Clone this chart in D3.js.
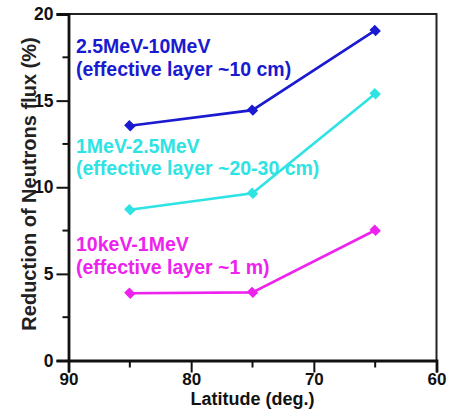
<!DOCTYPE html>
<html><head><meta charset="utf-8">
<script src="https://cdn.jsdelivr.net/npm/d3@7"></script>
<style>body{margin:0;background:#fff}svg{display:block}text{font-family:"Liberation Sans",Arial,sans-serif}</style>
</head><body>
<svg id="c" width="453" height="411"></svg>
<script>
const latitudes = [85, 75, 65];
const seriesNames = ["2.5MeV-10MeV", "1MeV-2.5MeV", "10keV-1MeV"];
const seriesNotes = ["(effective layer ~10 cm)", "(effective layer ~20-30 cm)", "(effective layer ~1 m)"];
const fastValues = [13.55, 14.45, 19.05];
const midValues = [8.7, 9.65, 15.4];
const lowValues = [3.88, 3.93, 7.52];
const seriesColors = ["#1a1ad0", "#2ee3e3", "#ee22ee"];
const xTicks = [90, 80, 70, 60];
const yTicks = [0, 5, 10, 15, 20];

const svg = d3.select("#c");
const L = 68.5, R = 436.5, T = 14, B = 360.5;
const x = d3.scaleLinear().domain([90, 60]).range([L, R]);
const y = d3.scaleLinear().domain([0, 20]).range([B, T]);

// frame top/right
svg.append("path").attr("d", `M${L},${T}H${R}V${B}`).attr("fill","none").attr("stroke","#222").attr("stroke-width",2);

// y axis
const yMinor = d3.range(2.5, 20, 5);
const gy = svg.append("g").attr("transform",`translate(${L},0)`);
gy.call(d3.axisLeft(y).tickValues(yTicks).tickSize(12).tickPadding(3));
yMinor.forEach(v=>gy.append("line").attr("x1",-6).attr("x2",0).attr("y1",y(v)).attr("y2",y(v)).attr("stroke","#111").attr("stroke-width",2));
gy.select(".domain").attr("stroke","#111").attr("stroke-width",2.8);
gy.selectAll(".tick line").attr("stroke","#111").attr("stroke-width",2);
gy.selectAll(".tick text").attr("font-size",17.5).attr("font-weight","bold").attr("fill","#111").attr("font-family","Liberation Sans, Arial, sans-serif");

// x axis
const xMinor = [85, 75, 65];
const gx = svg.append("g").attr("transform",`translate(0,${B})`);
gx.call(d3.axisBottom(x).tickValues(xTicks).tickFormat(d3.format("d")).tickSize(12).tickPadding(0));
xMinor.forEach(v=>gx.append("line").attr("x1",x(v)).attr("x2",x(v)).attr("y1",0).attr("y2",7).attr("stroke","#111").attr("stroke-width",2));
gx.select(".domain").attr("stroke","#111").attr("stroke-width",2.8);
gx.selectAll(".tick line").attr("stroke","#111").attr("stroke-width",2);
gx.selectAll(".tick text").attr("font-size",17).attr("font-weight","bold").attr("fill","#111").attr("font-family","Liberation Sans, Arial, sans-serif");

// titles
svg.append("text").attr("x",(L+R)/2).attr("y",405).attr("text-anchor","middle")
  .attr("font-size",18).attr("font-weight","bold").attr("fill","#111").text("Latitude (deg.)");
svg.append("text").attr("transform",`translate(36,${(32+336)/2}) rotate(-90)`).attr("text-anchor","middle")
  .attr("font-size",20).attr("font-weight","bold").attr("fill","#222").text("Reduction of Neutrons flux (%)");

// series
const allValues = [fastValues, midValues, lowValues];
const line = d3.line().x((d,i)=>x(latitudes[i])).y(d=>y(d));
const sym = d3.symbol().type(d3.symbolSquare).size(62);
allValues.forEach((vals,k)=>{
  svg.append("path").attr("d",line(vals)).attr("fill","none").attr("stroke",seriesColors[k]).attr("stroke-width",2.6);
  svg.selectAll(null).data(vals).enter().append("path")
    .attr("d",sym).attr("fill",seriesColors[k])
    .attr("transform",(d,i)=>`translate(${x(latitudes[i])},${y(d)}) rotate(45) scale(1.1,0.95)`);
});

// labels
const labelY = [[53,76],[153,175],[251,274]];
seriesNames.forEach((n,k)=>{
  svg.append("text").attr("x",76).attr("y",labelY[k][0]).attr("font-size",19.5).attr("font-weight","bold").attr("fill",seriesColors[k]).text(n);
  svg.append("text").attr("x",76).attr("y",labelY[k][1]).attr("font-size",19.5).attr("font-weight","bold").attr("fill",seriesColors[k]).text(seriesNotes[k]);
});
</script>
</body></html>
